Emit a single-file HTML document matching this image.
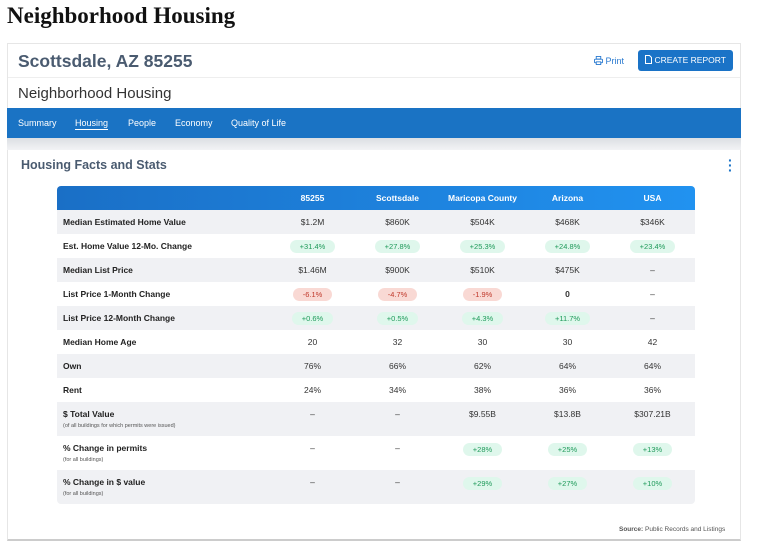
<!DOCTYPE html>
<html><head><meta charset="utf-8"><style>
*{box-sizing:border-box;margin:0;padding:0}
body{width:771px;height:550px;background:#fff;font-family:"Liberation Sans",sans-serif;position:relative;overflow:hidden}
.abs{position:absolute}
h1{position:absolute;left:7px;top:3px;font-family:"Liberation Serif",serif;font-size:23px;font-weight:bold;color:#111}
.card{left:7px;top:43px;width:734px;height:498px;border:1px solid #e6e6e6;border-bottom:2px solid #ccc;background:#fff}
.loc{left:18px;top:51px;font-size:17.5px;font-weight:bold;color:#4a5b70}
.print{left:594px;top:56px;font-size:9px;color:#2a7ad0}
.btn{left:638px;top:50px;width:95px;height:21px;background:#1a73c7;color:#fff;font-size:8.5px;border-radius:3px;line-height:21px;text-align:center}
.sub{left:18px;top:85px;font-size:15px;color:#333}
.nav{left:7px;top:108px;width:734px;height:30px;background:#1a73c4}
.nav span{position:absolute;top:10px;font-size:9px;color:#fff}
.band{left:7px;top:138px;width:734px;height:12px;background:linear-gradient(#dcdfe3,#f2f3f5)}
.sec{left:21px;top:158px;font-size:12.5px;font-weight:bold;color:#4a5b70}
.hdr{left:57px;top:186px;width:638px;height:24px;background:linear-gradient(90deg,#1a6fc6,#2192f0);border-radius:4px 4px 0 0}
table{position:absolute;left:57px;top:186px;width:638px;border-collapse:collapse;font-size:8.5px;color:#333}
td,th{text-align:center;vertical-align:middle;padding:0}
th{background:transparent;color:#fff;font-weight:bold;height:24px;font-size:8.5px}
td.l{text-align:left;padding-left:6px;font-weight:bold;color:#222;width:213px}
tr.g td{background:#f0f1f4}
tr td{height:24px}
tr.t td{height:34px;vertical-align:top;padding-top:7px}
.s{display:block;font-size:5.5px;font-weight:normal;color:#555;margin-top:4px}
.p{display:inline-block;border-radius:7px;padding:2px 10px;font-size:7.5px}
.up{background:#dff7ec;color:#1f9a5a}.dn{background:#f9d9d4;color:#c0392b}
.src{left:619px;top:526px;font-size:6.5px;color:#555}
</style></head><body>
<h1>Neighborhood Housing</h1>
<div class="abs card"></div>
<div class="abs loc">Scottsdale, AZ 85255</div>
<div class="abs print"><svg width="9" height="9" viewBox="0 0 10 10" style="vertical-align:-1px"><rect x="2.5" y="0.5" width="5" height="3" fill="none" stroke="#2a7ad0"/><rect x="0.5" y="3.5" width="9" height="4" rx="1" fill="none" stroke="#2a7ad0"/><rect x="2.5" y="6.5" width="5" height="3" fill="#fff" stroke="#2a7ad0"/></svg> Print</div>
<div class="abs btn"><svg width="7" height="9" viewBox="0 0 7 9" style="vertical-align:-1px"><path d="M0.5 0.5h4l2 2v6h-6z" fill="none" stroke="#fff"/></svg> CREATE REPORT</div>
<div class="abs" style="left:8px;top:77px;width:732px;height:1px;background:#eee"></div>
<div class="abs sub">Neighborhood Housing</div>
<div class="abs nav">
<span style="left:11px">Summary</span>
<span style="left:68px;border-bottom:1px solid #fff;padding-bottom:1px">Housing</span>
<span style="left:121px">People</span>
<span style="left:168px">Economy</span>
<span style="left:224px">Quality of Life</span>
</div>
<div class="abs band"></div>
<div class="abs" style="left:9px;top:150px;width:731px;height:380px;background:#fff"></div>
<div class="abs sec">Housing Facts and Stats</div>
<div class="abs" style="left:728px;top:158px;font-size:14px;color:#1a73c7;font-weight:bold;line-height:5px">·<br>·<br>·</div>
<div class="abs hdr"></div>
<table>
<tr><th></th><th style="width:85px">85255</th><th style="width:85px">Scottsdale</th><th style="width:85px">Maricopa County</th><th style="width:85px">Arizona</th><th style="width:85px">USA</th></tr>
<tr class="g"><td class="l">Median Estimated Home Value</td><td>$1.2M</td><td>$860K</td><td>$504K</td><td>$468K</td><td>$346K</td></tr>
<tr><td class="l">Est. Home Value 12-Mo. Change</td><td><span class="p up">+31.4%</span></td><td><span class="p up">+27.8%</span></td><td><span class="p up">+25.3%</span></td><td><span class="p up">+24.8%</span></td><td><span class="p up">+23.4%</span></td></tr>
<tr class="g"><td class="l">Median List Price</td><td>$1.46M</td><td>$900K</td><td>$510K</td><td>$475K</td><td>–</td></tr>
<tr><td class="l">List Price 1-Month Change</td><td><span class="p dn">-6.1%</span></td><td><span class="p dn">-4.7%</span></td><td><span class="p dn">-1.9%</span></td><td><b>0</b></td><td>–</td></tr>
<tr class="g"><td class="l">List Price 12-Month Change</td><td><span class="p up">+0.6%</span></td><td><span class="p up">+0.5%</span></td><td><span class="p up">+4.3%</span></td><td><span class="p up">+11.7%</span></td><td>–</td></tr>
<tr><td class="l">Median Home Age</td><td>20</td><td>32</td><td>30</td><td>30</td><td>42</td></tr>
<tr class="g"><td class="l">Own</td><td>76%</td><td>66%</td><td>62%</td><td>64%</td><td>64%</td></tr>
<tr><td class="l">Rent</td><td>24%</td><td>34%</td><td>38%</td><td>36%</td><td>36%</td></tr>
<tr class="g t"><td class="l">$ Total Value<span class="s">(of all buildings for which permits were issued)</span></td><td>–</td><td>–</td><td>$9.55B</td><td>$13.8B</td><td>$307.21B</td></tr>
<tr class="t"><td class="l">% Change in permits<span class="s">(for all buildings)</span></td><td>–</td><td>–</td><td><span class="p up">+28%</span></td><td><span class="p up">+25%</span></td><td><span class="p up">+13%</span></td></tr>
<tr class="g t"><td class="l" style="border-bottom-left-radius:4px">% Change in $ value<span class="s">(for all buildings)</span></td><td>–</td><td>–</td><td><span class="p up">+29%</span></td><td><span class="p up">+27%</span></td><td style="border-bottom-right-radius:4px"><span class="p up">+10%</span></td></tr>
</table>
<div class="abs src"><b>Source:</b> Public Records and Listings</div>
</body></html>
